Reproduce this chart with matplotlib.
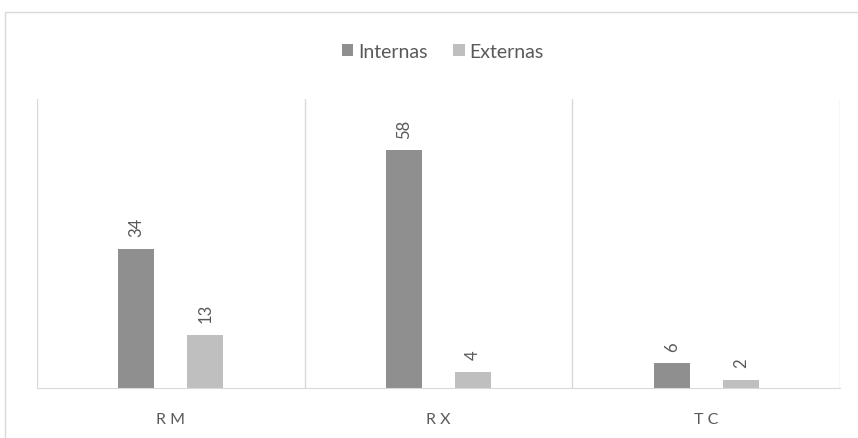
import matplotlib.pyplot as plt
import numpy as np
from matplotlib.patches import Rectangle

plt.rcParams['font.family'] = ['Lato', 'DejaVu Sans']

# dados
categorias = ["RM", "RX", "TC"]
internas = [34, 58, 6]
externas = [13, 4, 2]

cor_int = "#8f8f8f"
cor_ext = "#bfbfbf"
cor_texto = "#595959"
cor_linha = "#d9d9d9"

fig = plt.figure(figsize=(8.58, 4.39), dpi=100)
ax = fig.add_axes([37 / 858, 50 / 439, 803 / 858, 289 / 439])

x = np.arange(len(categorias))
larg = 0.134
desl = 0.129

b1 = ax.bar(x - desl, internas, larg, color=cor_int, label="Internas")
b2 = ax.bar(x + desl, externas, larg, color=cor_ext, label="Externas")

# rotulos verticais acima das barras
for barras in (b1, b2):
    for b in barras:
        ax.annotate(f"{int(b.get_height())}",
                    (b.get_x() + b.get_width() / 2, b.get_height()),
                    xytext=(0, 9), textcoords="offset points",
                    rotation=90, ha="center", va="bottom",
                    fontsize=12, color=cor_texto)

ax.set_xlim(-0.5, len(categorias) - 0.5)
ax.set_ylim(0, 70.5)
ax.set_yticks([])
ax.set_xticks(x)
ax.set_xticklabels(["R M", "R X", "T C"], fontsize=11.5, color=cor_texto)
ax.tick_params(axis="x", length=0, pad=17)

for s in ["top", "right", "left"]:
    ax.spines[s].set_visible(False)
ax.spines["bottom"].set_color(cor_linha)

# separadores entre categorias
for xs in np.arange(-0.5, len(categorias), 1.0):
    ax.axvline(xs, color=cor_linha, lw=1)

fig.legend(loc="upper center", bbox_to_anchor=(0.516, 0.94), ncol=2,
           frameon=False, fontsize=14, handlelength=0.6, handleheight=0.6,
           handletextpad=0.25, columnspacing=1.3, labelcolor=cor_texto)

# borda do grafico
fig.patches.append(Rectangle((4.5 / 858, -0.1), 1.2, (439 - 12.5) / 439 + 0.1,
                             transform=fig.transFigure, fill=False,
                             edgecolor=cor_linha, lw=1))

fig.savefig("out.png", dpi=100)
